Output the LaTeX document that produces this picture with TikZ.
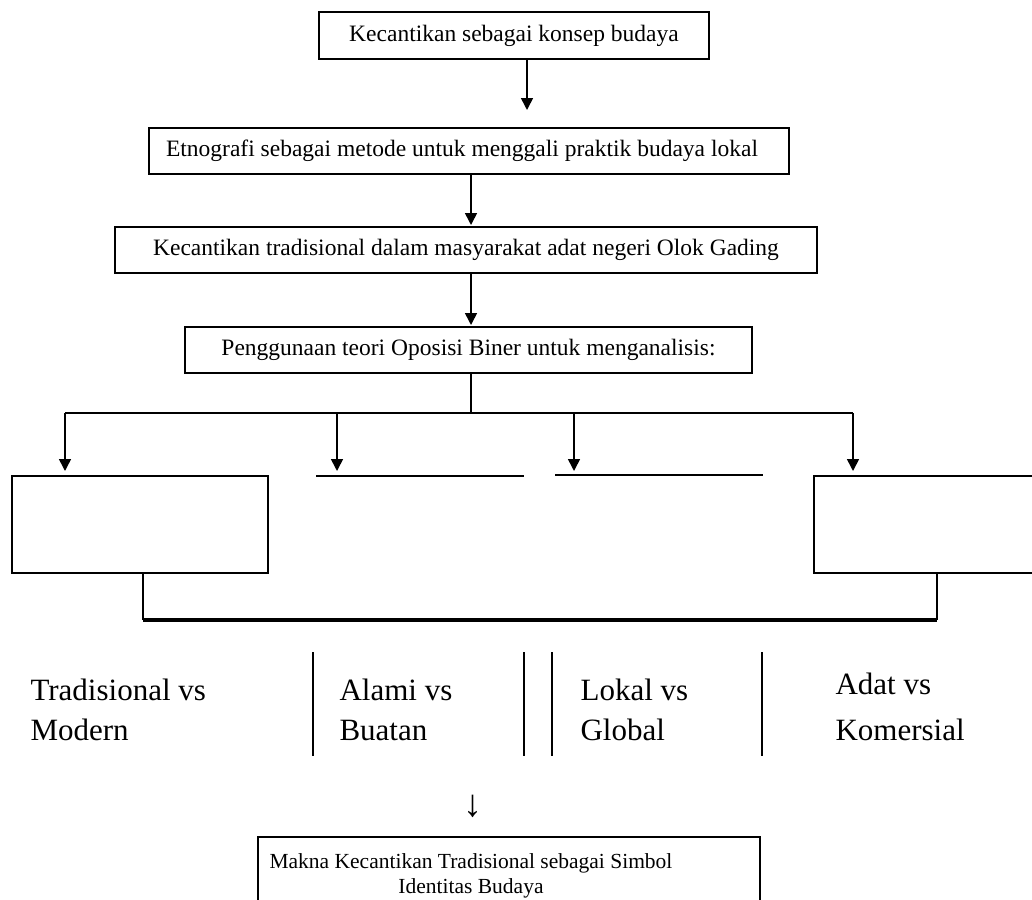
\documentclass[tikz,border=0pt]{standalone}
\usepackage{fontspec}
\setmainfont{Liberation Serif}
\usetikzlibrary{arrows.meta}

\tikzset{every picture/.style={line width=1.1pt}}
\tikzset{
	flowbox/.style={draw, inner sep=0pt, outer sep=0pt, font=\fontsize{23.5}{28}\selectfont},
	flowarrow/.style={line width=1.6pt, -{Triangle[length=12pt,width=12pt]}},
	pairtext/.style={anchor=north west, inner sep=0pt, align=left, font=\fontsize{31}{40}\selectfont}}

\begin{document}
\begin{tikzpicture}[x=1pt,y=1pt,yscale=-1,xscale=1]
	\useasboundingbox (0,0) rectangle (1032,899);

	%Shape: Rectangle [konsep]
	\node[flowbox, minimum width=390pt, minimum height=47pt] (konsep) at (514,35.5) {Kecantikan sebagai konsep budaya};
	%Shape: Rectangle [etnografi]
	\node[flowbox, minimum width=640pt, minimum height=46pt] (etnografi) at (469,151) {Etnografi sebagai metode untuk menggali praktik budaya lokal\hspace*{14pt}};
	%Shape: Rectangle [tradisi]
	\node[flowbox, minimum width=702pt, minimum height=46pt] (tradisi) at (466,250) {Kecantikan tradisional dalam masyarakat adat negeri Olok Gading};
	%Shape: Rectangle [oposisi]
	\node[flowbox, minimum width=567pt, minimum height=46pt] (oposisi) at (468.5,350) {Penggunaan teori Oposisi Biner untuk menganalisis:};
	%Shape: Rectangle [kiri]
	\node[flowbox, minimum width=256pt, minimum height=97pt] (kiri) at (140,524.5) {};
	%Shape: Rectangle [kanan], open at the page edge
	\draw (1040,476) -- (814,476) -- (814,573) -- (1040,573) ;

	\coordinate (tip1) at (527,110);
	\coordinate (axis) at (471,0);
	\coordinate (fork) at (471,413);
	\coordinate (d1) at (65,413);
	\coordinate (d2) at (337,413);
	\coordinate (d3) at (574,413);
	\coordinate (d4) at (853,413);
	\coordinate (bl) at (143,620);
	\coordinate (br) at (937,620);
	\coordinate (rb) at (937,573);

	%Straight Lines [arrows down the chain]
	\draw[flowarrow] (konsep.south -| tip1) -- (tip1) ;
	\draw[flowarrow] (etnografi.south -| axis) -- ([yshift=-2pt]tradisi.north -| axis) ;
	\draw[flowarrow] (tradisi.south -| axis) -- ([yshift=-2pt]oposisi.north -| axis) ;

	%Straight Lines [fork]
	\draw (oposisi.south -| axis) -- (fork) ;
	\draw (d1) -- (fork) -- (d4) ;
	\foreach \d in {d1,d2,d3,d4}
		\draw[flowarrow] (\d) -- ([yshift=58pt]\d) ;

	%Straight Lines [tops of the two middle boxes]
	\draw[line width=2.6pt] (316,476) -- (524,476) ;
	\draw (555,475) -- (763,475) ;

	%Straight Lines [bracket]
	\draw (kiri.south -| bl) -- (bl) ;
	\draw (rb) -- (br) ;
	\draw[line width=4.5pt] (bl) -- (br) ;

	%Straight Lines [dividers]
	\foreach \x in {313,524,552,762}
		\draw[line width=1.5pt] (\x,652) -- (\x,756) ;

	% Text Node
	\node[pairtext] (tradmod) at (30,678) {Tradisional vs\\Modern};
	% Text Node
	\node[pairtext] (alabua) at (339,678) {Alami vs\\Buatan};
	% Text Node
	\node[pairtext] (lokglo) at (580,678) {Lokal vs\\Global};
	% Text Node
	\node[pairtext] (adakom) at (835,672) {Adat vs\\[6pt]Komersial};
	% Text Node
	\node[inner sep=0pt, font=\fontsize{38}{40}\selectfont] (turun) at (473,806) {↓};

	%Shape: Rectangle [makna], cut at the page edge
	\draw (258,905) -- (258,837) -- (760,837) -- (760,905) ;
	% Text Node
	\node[inner sep=0pt, align=center, font=\fontsize{21.5}{25}\selectfont] (makna) at (471,876) {Makna Kecantikan Tradisional sebagai Simbol\\Identitas Budaya};

\end{tikzpicture}
\end{document}
